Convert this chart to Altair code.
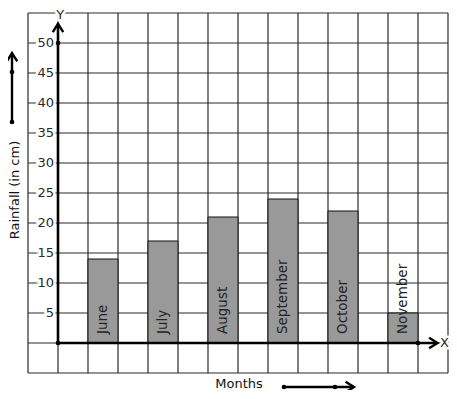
import altair as alt
import pandas as pd

# ---- data ----
months = ["June", "July", "August", "September", "October", "November"]
rainfall_cm = [14, 17, 21, 24, 22, 5]
y_tick_labels = [5, 10, 15, 20, 25, 30, 35, 40, 45, 50]
x_title = "Months"
y_title = "Rainfall (in cm)"

FONT = "DejaVu Sans"
W, H = 420, 360
X_MIN, X_MAX = -1, 13
Y_MIN, Y_MAX, Y_STEP = -5, 55, 5
X_TIP, Y_TIP = 12.65, 53.2
xs = alt.Scale(domain=[X_MIN, X_MAX], nice=False, zero=False)
ys = alt.Scale(domain=[Y_MIN, Y_MAX], nice=False, zero=False)


def X(f):
    return alt.X(f, type="quantitative", scale=xs, axis=None)


def Y(f):
    return alt.Y(f, type="quantitative", scale=ys, axis=None)


bars_df = pd.DataFrame({
    "month": months,
    "rain": rainfall_cm,
    "x0": [2 * i + 1 for i in range(len(months))],
    "x1": [2 * i + 2 for i in range(len(months))],
    "xc": [2 * i + 1.5 for i in range(len(months))],
    "zero": [0] * len(months),
})
ticks_df = pd.DataFrame({"v": y_tick_labels, "zero": [0] * len(y_tick_labels)})
one = pd.DataFrame({"k": [0]})

gx = list(range(X_MIN, X_MAX + 1))
gy = list(range(Y_MIN, Y_MAX + 1, Y_STEP))
vgrid_df = pd.DataFrame({"gx": gx, "y0": [Y_MIN] * len(gx), "y1": [Y_MAX] * len(gx)})
hgrid_df = pd.DataFrame({"gy": gy, "x0": [X_MIN] * len(gy), "x1": [X_MAX] * len(gy)})

GRID_COLOR = "#2a2a2a"
vgrid = alt.Chart(vgrid_df).mark_rule(color=GRID_COLOR, strokeWidth=1.2).encode(
    x=X("gx"), y=Y("y0"), y2="y1")
hgrid = alt.Chart(hgrid_df).mark_rule(color=GRID_COLOR, strokeWidth=1.2).encode(
    y=Y("gy"), x=X("x0"), x2="x1")

bars = alt.Chart(bars_df).mark_bar(color="#999999", stroke="#111111", strokeWidth=1).encode(
    x=X("x0"), x2="x1", y=Y("rain"), y2="zero")

month_text = alt.Chart(bars_df).mark_text(
    angle=270, align="left", baseline="middle", dx=9, font=FONT, fontSize=13.5, color="#222222"
).encode(x=X("xc"), y=Y("zero"), text="month:N")

# axis lines
axes_df = pd.DataFrame({"ax0": [0, 0], "ax1": [X_TIP, 0], "ay0": [0, 0], "ay1": [0, Y_TIP]})
axis_lines = alt.Chart(axes_df).mark_rule(color="black", strokeWidth=2.6).encode(
    x=X("ax0"), x2="ax1", y=Y("ay0"), y2="ay1")

dots_df = pd.DataFrame({"x": [0, 12, 0], "y": [0, 0, 50]})
dots = alt.Chart(dots_df).mark_point(filled=True, color="black", size=22, opacity=1).encode(
    x=X("x"), y=Y("y"))

up_shape = "M-1,1.6L0,0L1,1.6"
right_shape = "M-1.6,-1L0,0L-1.6,1"
tips_df = pd.DataFrame({"tx": [0], "ty": [Y_TIP]})
tips_df2 = pd.DataFrame({"tx": [X_TIP], "ty": [0]})
y_arrow = alt.Chart(tips_df).mark_point(shape=up_shape, filled=False, color="black",
                                        strokeWidth=2.4, size=110, opacity=1).encode(
    x=X("tx"), y=Y("ty"))
x_arrow = alt.Chart(tips_df2).mark_point(shape=right_shape, filled=False, color="black",
                                         strokeWidth=2.4, size=110, opacity=1).encode(
    x=X("tx"), y=Y("ty"))

# y tick labels with white halo
tick_halo = alt.Chart(ticks_df).mark_text(
    align="right", baseline="middle", dx=-4, font=FONT, fontSize=13,
    stroke="white", strokeWidth=5, color="white"
).encode(x=X("zero"), y=Y("v"), text="v:Q")
tick_text = alt.Chart(ticks_df).mark_text(
    align="right", baseline="middle", dx=-4, font=FONT, fontSize=13, color="#2a2a2a"
).encode(x=X("zero"), y=Y("v"), text="v:Q")

# X / Y letters
xy_df = pd.DataFrame({"t": ["X", "Y"], "x": [12.88, 0.07], "y": [0, 54.6]})
xy_halo = alt.Chart(xy_df).mark_text(font=FONT, fontSize=13, baseline="middle", align="center",
                                     stroke="white", strokeWidth=5, color="white").encode(
    x=X("x"), y=Y("y"), text="t:N")
xy_text = alt.Chart(xy_df).mark_text(font=FONT, fontSize=13, baseline="middle", align="center",
                                     color="#2a2a2a").encode(
    x=X("x"), y=Y("y"), text="t:N")

# axis titles (outside plot)
months_label = alt.Chart(one).mark_text(font=FONT, fontSize=13, color="#111111",
                                        baseline="middle", align="center").encode(
    x=alt.value(211), y=alt.value(371), text=alt.value(x_title))
rain_label = alt.Chart(one).mark_text(font=FONT, fontSize=13, color="#111111", angle=270,
                                      baseline="middle", align="center").encode(
    x=alt.value(-13), y=alt.value(177), text=alt.value(y_title))

# decorative arrows next to titles
left_line = alt.Chart(one).mark_rule(color="black", strokeWidth=2.4).encode(
    x=alt.value(-16), y=alt.value(109), y2=alt.value(40))
left_dots = alt.Chart(pd.DataFrame({"py": [109, 59]})).mark_point(
    filled=True, color="black", size=22, opacity=1).encode(
    x=alt.value(-16), y=alt.Y("py:Q", scale=None, axis=None))
left_head = alt.Chart(one).mark_point(shape=up_shape, filled=False, color="black",
                                      strokeWidth=2.4, size=110, opacity=1).encode(
    x=alt.value(-16), y=alt.value(40))

bot_line = alt.Chart(one).mark_rule(color="black", strokeWidth=2.4).encode(
    x=alt.value(256), x2=alt.value(326), y=alt.value(374))
bot_dots = alt.Chart(pd.DataFrame({"px": [256, 307]})).mark_point(
    filled=True, color="black", size=22, opacity=1).encode(
    x=alt.X("px:Q", scale=None, axis=None), y=alt.value(374))
bot_head = alt.Chart(one).mark_point(shape=right_shape, filled=False, color="black",
                                     strokeWidth=2.4, size=110, opacity=1).encode(
    x=alt.value(326), y=alt.value(374))

chart = alt.layer(
    vgrid, hgrid, bars, month_text, axis_lines, dots, y_arrow, x_arrow,
    tick_halo, tick_text, xy_halo, xy_text,
    months_label, rain_label, left_line, left_dots, left_head, bot_line, bot_dots, bot_head,
).properties(
    width=W, height=H,
    autosize=alt.AutoSizeParams(type="none"),
    padding={"left": 20, "top": 5, "right": 1, "bottom": 17},
    background="white",
).configure_view(stroke=None)

chart.save("out.html", embed_options={"renderer": "svg", "actions": False})
